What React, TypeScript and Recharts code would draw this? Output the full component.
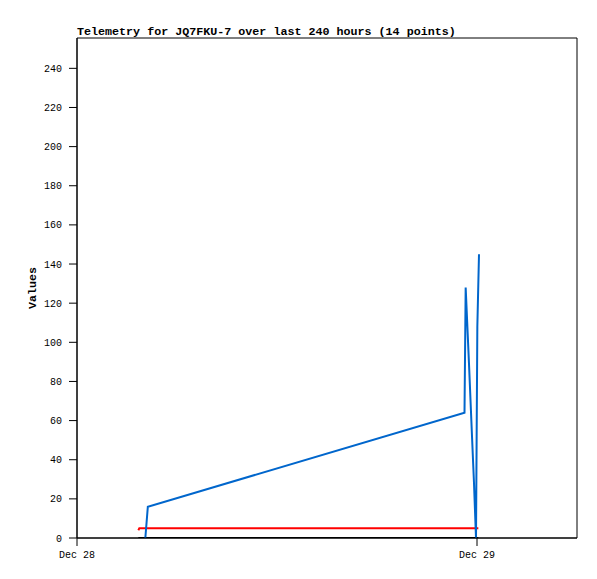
import { LineChart, Line, XAxis, YAxis, ReferenceArea } from 'recharts';

// hours since Dec 28 00:00
const blueHours = [4.1, 4.25, 23.25, 23.32, 23.52, 23.7, 23.82, 23.94, 24.02, 24.12];
const blueValues = [0, 16, 64, 128, 89, 52, 28, 0, 108, 145];

const redHours = [3.68, 3.74, 24.08];
const redValues = [4, 5, 5];

const blackHours = [3.68, 24.08];
const blackValues = [0, 0];

const xTicks = [0, 24];
const xTickLabels: Record<number, string> = { 0: 'Dec 28', 24: 'Dec 29' };
const yTicks = [0, 20, 40, 60, 80, 100, 120, 140, 160, 180, 200, 220, 240];

const title = 'Telemetry for JQ7FKU-7 over last 240 hours (14 points)';

const toRows = (hours: number[], values: number[]) =>
  hours.map((h, i) => ({ t: h, v: values[i] }));

const mono = '"Liberation Mono", "DejaVu Sans Mono", monospace';

export default function App() {
  return (
    <div style={{ position: 'relative', width: 589, height: 571 }}>
      <div
        style={{
          position: 'absolute',
          left: 69,
          top: 18,
          fontFamily: mono,
          fontSize: 11.7,
          fontWeight: 'bold',
          lineHeight: '12px',
          whiteSpace: 'nowrap',
        }}
      >
        {title}
      </div>
      <LineChart width={589} height={571} margin={{ top: 30, right: 20, bottom: 11, left: 0 }}>
        <XAxis
          type="number"
          dataKey="t"
          domain={[0, 30]}
          ticks={xTicks}
          tickFormatter={(v: number) => xTickLabels[v] ?? ''}
          stroke="#000"
          tickSize={8}
          tickMargin={5}
          height={30}
          tick={{ fill: '#000', fontSize: 10, fontFamily: mono }}
          allowDataOverflow
        />
        <YAxis
          type="number"
          domain={[0, 255.5]}
          ticks={yTicks}
          stroke="#000"
          tickSize={8}
          tickMargin={7}
          width={69}
          tick={{ fill: '#000', fontSize: 10, fontFamily: mono }}
          allowDataOverflow
          label={{
            value: 'Values',
            angle: -90,
            position: 'insideLeft',
            offset: 24,
            style: { textAnchor: 'middle', fontFamily: mono, fontSize: 11.7, fontWeight: 'bold', fill: '#000' },
          }}
        />
        <ReferenceArea x1={0} x2={30} y1={0} y2={255.5} fill="none" stroke="#000" strokeOpacity={1} />
        <Line
          data={toRows(blackHours, blackValues)}
          dataKey="v"
          stroke="#000"
          strokeWidth={2}
          dot={false}
          isAnimationActive={false}
        />
        <Line
          data={toRows(redHours, redValues)}
          dataKey="v"
          stroke="#ff0000"
          strokeWidth={2}
          dot={false}
          isAnimationActive={false}
        />
        <Line
          data={toRows(blueHours, blueValues)}
          dataKey="v"
          stroke="#0066cc"
          strokeWidth={2}
          dot={false}
          isAnimationActive={false}
        />
      </LineChart>
    </div>
  );
}
